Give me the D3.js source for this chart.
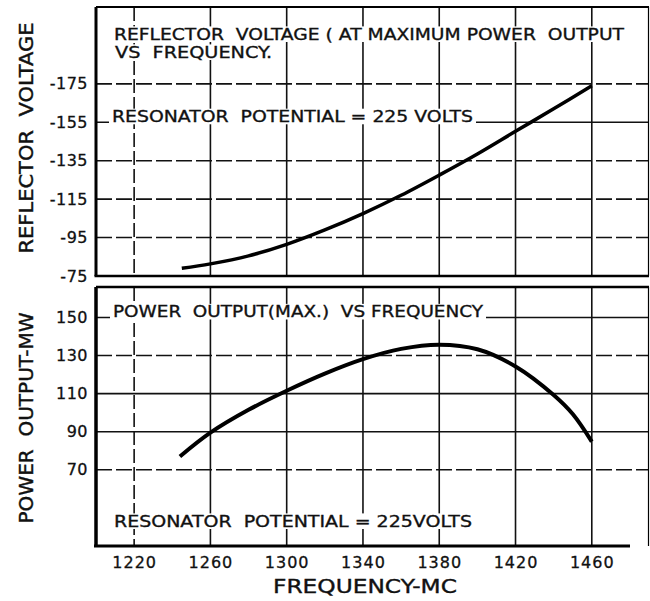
<!DOCTYPE html>
<html>
<head>
<meta charset="utf-8">
<script src="https://cdn.jsdelivr.net/npm/d3@7"></script>
<style>
body { margin: 0; background: #fff; }
svg { display: block; }
text { font-family: "DejaVu Sans", sans-serif; fill: #111; }
</style>
</head>
<body>
<div id="container"></div>
<script>
var width = 650;
var height = 601;

// tick values
var freqTicks = [1220, 1260, 1300, 1340, 1380, 1420, 1460];
var voltTicks = [-75, -95, -115, -135, -155, -175];
var powerTicks = [70, 90, 110, 130, 150];

// reflector voltage vs frequency
var voltFreq = [1245, 1260, 1280, 1300, 1320, 1340, 1360, 1380, 1400, 1420, 1440, 1460];
var voltValues = [-79, -81.3, -85.5, -91.5, -99, -107.5, -117, -127.5, -138.5, -150.3, -162, -174];

// power output vs frequency
var powerFreq = [1244, 1260, 1280, 1300, 1320, 1340, 1360, 1380, 1400, 1420, 1440, 1450, 1460];
var powerValues = [77, 89.5, 101.5, 111.5, 120.5, 128.1, 133.5, 135.7, 133.3, 124.3, 109.3, 99.3, 84.8];

var topTitle = ["REFLECTOR  VOLTAGE ( AT MAXIMUM POWER  OUTPUT", "VS  FREQUENCY."];
var topNote = "RESONATOR  POTENTIAL = 225 VOLTS";
var bottomTitle = "POWER  OUTPUT(MAX.)  VS FREQUENCY";
var bottomNote = "RESONATOR  POTENTIAL = 225VOLTS";

var svg = d3.select("div#container").append("svg")
    .attr("width", width)
    .attr("height", height);

// scales
var x = d3.scaleLinear().domain([1200, 1490]).range([96, 649]);
var yTop = d3.scaleLinear().domain([-75, -215]).range([276, 7]);
var yBot = d3.scaleLinear().domain([30, 166]).range([546, 287]);

// gridlines
function vGrid(g, y0, y1) {
    g.selectAll("line.v")
        .data(freqTicks)
        .enter().append("line")
        .attr("x1", d => x(d)).attr("x2", d => x(d))
        .attr("y1", y0).attr("y2", y1)
        .attr("stroke", "#111")
        .attr("stroke-width", 1.6)
        .attr("stroke-dasharray", (d, i) => i == 0 ? "14,4" : null);
}

var gTop = svg.append("g");
vGrid(gTop, yTop.range()[1], yTop.range()[0]);
gTop.selectAll("line.h")
    .data(voltTicks.slice(1))
    .enter().append("line")
    .attr("x1", 96).attr("x2", 649)
    .attr("y1", d => yTop(d)).attr("y2", d => yTop(d))
    .attr("stroke", "#111")
    .attr("stroke-width", 1.6)
    .attr("stroke-dasharray", d => d == -155 ? null : "16,4");

var gBot = svg.append("g");
vGrid(gBot, yBot.range()[1], yBot.range()[0]);
gBot.selectAll("line.h")
    .data(powerTicks)
    .enter().append("line")
    .attr("x1", 96).attr("x2", 649)
    .attr("y1", d => yBot(d)).attr("y2", d => yBot(d))
    .attr("stroke", "#111")
    .attr("stroke-width", 1.6)
    .attr("stroke-dasharray", d => (d == 130 || d == 70) ? "16,4" : null);

// labels with white backing so the grid stops behind them
function note(str, x0, base, len, size) {
    svg.append("rect")
        .attr("x", x0 - 3).attr("y", base - size * 0.85)
        .attr("width", len + 6).attr("height", size * 0.85 + 2)
        .attr("fill", "#fff");
    svg.append("text")
        .attr("x", x0).attr("y", base)
        .attr("font-size", size)
        .attr("stroke", "#111").attr("stroke-width", 0.35)
        .style("white-space", "pre")
        .attr("textLength", len)
        .attr("lengthAdjust", "spacingAndGlyphs")
        .text(str);
}
note(topTitle[0], 114, 40, 510, 16);
note(topTitle[1], 115, 58, 157, 16);
note(topNote, 112, yTop(-155), 361, 16);
note(bottomTitle, 113, yBot(150), 370, 16);
note(bottomNote, 114, 527, 358, 16);

// curves
var line = d3.line().curve(d3.curveCatmullRom.alpha(0.5));
svg.append("path")
    .attr("d", line(voltFreq.map((f, i) => [x(f), yTop(voltValues[i])])))
    .attr("fill", "none")
    .attr("stroke", "#000")
    .attr("stroke-width", 3.5);
svg.append("path")
    .attr("d", line(powerFreq.map((f, i) => [x(f), yBot(powerValues[i])])))
    .attr("fill", "none")
    .attr("stroke", "#000")
    .attr("stroke-width", 4);

// frames
function seg(x1, y1, x2, y2, w) {
    svg.append("line")
        .attr("x1", x1).attr("y1", y1).attr("x2", x2).attr("y2", y2)
        .attr("stroke", "#000").attr("stroke-width", w);
}
seg(96, 7, 649, 7, 2);
seg(96, 7, 96, 276, 3);
seg(94.5, 276, 649, 276, 2.5);
seg(648.5, 7, 648.5, 276, 1.2);
seg(96, 287, 649, 287, 2.5);
seg(96, 287, 96, 546, 3.5);
seg(94, 546, 630, 546, 3);
seg(648.5, 287, 648.5, 546, 1.2);

// axes (labels only)
function styleTicks(sel, size, spacing) {
    sel.selectAll("text")
        .attr("font-size", size)
        .attr("font-family", "DejaVu Sans")
        .attr("fill", "#111")
        .attr("stroke", "#111").attr("stroke-width", 0.3)
        .attr("letter-spacing", spacing);
}
var fmtVolt = d => "-" + Math.abs(d);
svg.append("g")
    .attr("transform", "translate(96,0)")
    .call(d3.axisLeft(yTop).tickValues(voltTicks).tickSize(0).tickPadding(8).tickFormat(fmtVolt))
    .call(g => g.select(".domain").remove())
    .call(g => styleTicks(g, 16, 0.5));

svg.append("g")
    .attr("transform", "translate(96,0)")
    .call(d3.axisLeft(yBot).tickValues(powerTicks).tickSize(0).tickPadding(8))
    .call(g => g.select(".domain").remove())
    .call(g => styleTicks(g, 16, 0.5));

svg.append("g")
    .attr("transform", "translate(0,546)")
    .call(d3.axisBottom(x).tickValues(freqTicks).tickSize(0).tickPadding(11).tickFormat(d3.format("d")))
    .call(g => g.select(".domain").remove())
    .call(g => styleTicks(g, 16, 1));

// axis titles
function title(str, tx, ty, rot, len, size) {
    svg.append("text")
        .attr("transform", "translate(" + tx + "," + ty + ") rotate(" + rot + ")")
        .attr("text-anchor", "middle")
        .attr("font-size", size)
        .attr("stroke", "#111").attr("stroke-width", 0.4)
        .style("white-space", "pre")
        .attr("textLength", len)
        .attr("lengthAdjust", "spacingAndGlyphs")
        .text(str);
}
title("REFLECTOR  VOLTAGE", 33, 138, -90, 231, 19);
title("POWER  OUTPUT-MW", 33, 418, -90, 211, 19);
title("FREQUENCY-MC", 365, 593, 0, 184, 20);
</script>
</body>
</html>
